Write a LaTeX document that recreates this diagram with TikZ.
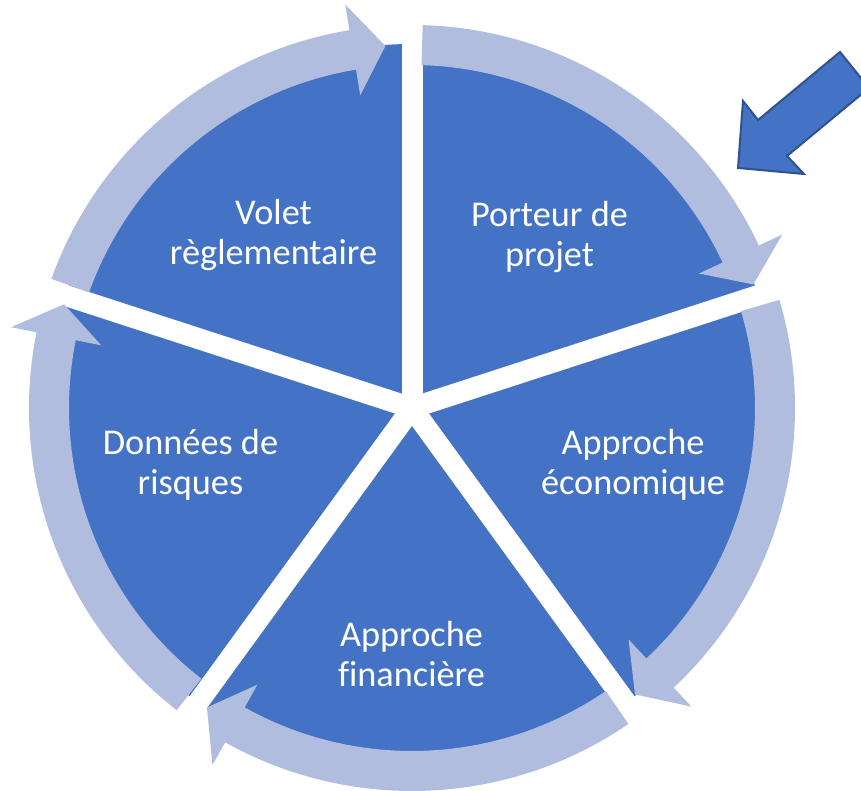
\documentclass[tikz,border=0pt]{standalone}
\usepackage{fontspec}
\setmainfont{Carlito}[Ligatures=NoCommon]
\definecolor{wedgec}{HTML}{4472C4}
\definecolor{ringc}{RGB}{176,189,222}
\definecolor{edgec}{HTML}{2F528F}
\begin{document}
\begin{tikzpicture}[x=1pt,y=1pt,
  lbl/.style={text=white, font=\fontsize{36.3}{40}\selectfont, inner sep=0pt, anchor=base},
  sepline/.style={draw=white, line width=21pt},
  cycarrow/.style={fill=ringc, draw=none},
  bigarrow/.style={fill=wedgec, draw=edgec, line width=2pt, line join=miter}]
\useasboundingbox (0,0) rectangle (861,791);
\clip (0,0) rectangle (861,791);
\coordinate (C) at (412,383);
% pie
\fill[wedgec] (C) circle[radius=364];
\foreach \a in {90,18,-54,-126,162} \draw[sepline] (C) -- ++(\a:400);
% cycle arrows
\begin{scope}[shift={(412,383)}]
\foreach \s/\t in {88.4/19.9, 16.4/-52.1, -55.6/-124.4, -127.9/-196.6, -199.7/-265.8} {
  \pgfmathsetmacro\b{\t+5.2}
  \fill[cycarrow] (\s:383) arc[start angle=\s, end angle=\b, radius=383]
     -- (\b:409) -- (\t:363) -- (\b:317) -- (\b:343)
     arc[start angle=\b, end angle=\s, radius=343] -- cycle;
}
\end{scope}
% labels
\node[lbl] (porteur) at (549.5,564) {\begin{tabular}[t]{@{}c@{}}Porteur de\\projet\end{tabular}};
\node[lbl] (volet) at (273.5,566) {\begin{tabular}[t]{@{}c@{}}Volet\\règlementaire\end{tabular}};
\node[lbl] (donnees) at (190.5,336) {\begin{tabular}[t]{@{}c@{}}Données de\\risques\end{tabular}};
\node[lbl] (eco) at (633,336) {\begin{tabular}[t]{@{}c@{}}Approche\\économique\end{tabular}};
\node[lbl] (fin) at (411.5,144) {\begin{tabular}[t]{@{}c@{}}Approche\\financière\end{tabular}};
% entry arrow
\draw[bigarrow] (840,739) -- (758,671) -- (743,690) -- (738,623) -- (804,617) -- (787,635) -- (869,703) -- cycle;
\end{tikzpicture}
\end{document}
